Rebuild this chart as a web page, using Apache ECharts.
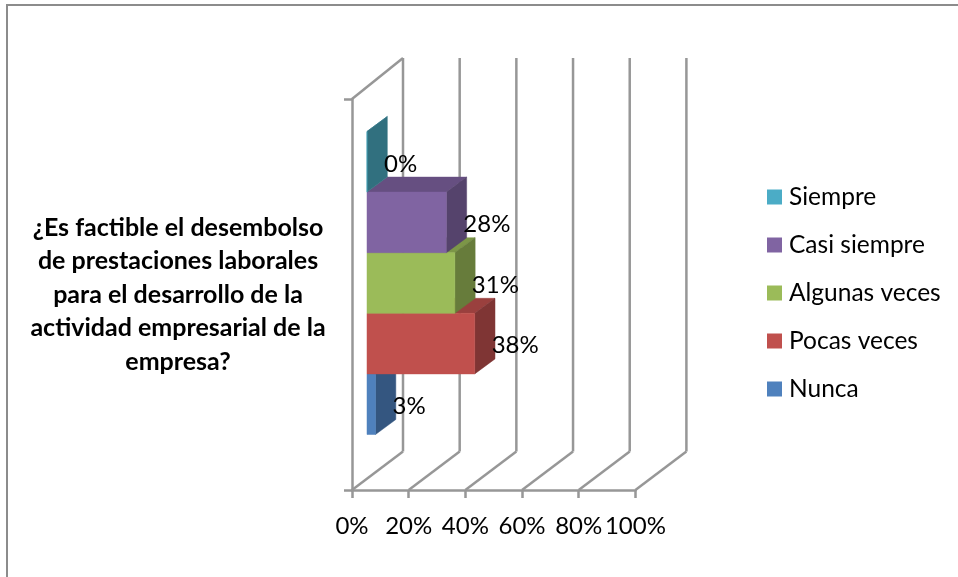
<!DOCTYPE html>
<html><head><meta charset="utf-8">
<style>html,body{margin:0;padding:0;background:#fff}#c{width:958px;height:577px}</style>
<script src="https://cdn.jsdelivr.net/npm/echarts@6/dist/echarts.min.js"></script>
</head><body><div id="c"></div>
<script>
const categories = ["¿Es factible el desembolso\nde prestaciones laborales\npara el desarrollo de la\nactividad empresarial de la\nempresa?"];
const seriesNames = ["Nunca", "Pocas veces", "Algunas veces", "Casi siempre", "Siempre"];
const nunca = [3];
const pocasVeces = [38];
const algunasVeces = [31];
const casiSiempre = [28];
const siempre = [0];
const seriesValues = [nunca, pocasVeces, algunasVeces, casiSiempre, siempre];
const legendOrder = ["Siempre", "Casi siempre", "Algunas veces", "Pocas veces", "Nunca"];
const axisTicks = [0, 20, 40, 60, 80, 100];

const palette = [
  {front:"#4F81BD", top:"#3F6797", side:"#345680"},
  {front:"#C0504D", top:"#9A403E", side:"#7F3534"},
  {front:"#9BBB59", top:"#7C9647", side:"#677C3B"},
  {front:"#8064A2", top:"#664F81", side:"#55436C"},
  {front:"#4BACC6", top:"#3C899E", side:"#31707F"}
];
const FONT = 'Lato, "Open Sans", sans-serif';
const wallColor = "#979797";
const barH = 60.6, barDX = 20.3, barDY = 15, shiftX = 15, shiftY = -11.5;
const wallDX = 51, wallBot = -38.5, wallTop = -41;

function wallItem(params, api) {
  const v = api.value(0);
  const bot = api.coord([v, 0]);
  const x = bot[0];
  const yBot = api.coord([0, 0])[1] + api.size([0, 1])[1] / 2;
  const yTop = yBot - api.size([0, 1])[1];
  const line = (x1, y1, x2, y2) => ({type: "line", shape: {x1, y1, x2, y2},
    style: {stroke: wallColor, lineWidth: 2.5, fill: null}});
  const kids = [
    line(x, yBot, x + wallDX, yBot + wallBot),
    line(x + wallDX, yBot + wallBot, x + wallDX, yTop + wallTop)
  ];
  if (v === 0) kids.push(line(x, yTop, x + wallDX, yTop + wallTop));
  return {type: "group", children: kids};
}

function barItem(idx) {
  return function (params, api) {
    const val = api.value(0);
    const o = api.coord([0, 0]);
    const e = api.coord([val, 0]);
    const x0 = o[0] + shiftX, x1 = e[0] + shiftX;
    const yC = o[1] + shiftY;
    const yB = yC + barH * 2.5 - barH * idx;
    const yT = yB - barH;
    const c = palette[idx];
    const poly = (pts, fill) => ({type: "polygon", shape: {points: pts},
      style: {fill: fill, stroke: fill, lineWidth: 0.5}});
    const kids = [
      poly([[x0, yT], [x0 + barDX, yT - barDY], [x1 + barDX, yT - barDY], [x1, yT]], c.top),
      poly([[x1, yT], [x1 + barDX, yT - barDY], [x1 + barDX, yB - barDY], [x1, yB]], c.side),
      poly([[x0, yT], [x1, yT], [x1, yB], [x0, yB]], c.front),
      {type: "text", z2: 50, style: {x: x1 + 17, y: (yT + yB) / 2 + 2, text: val + "%",
        font: "24px " + FONT, fill: "#000", textAlign: "left", textVerticalAlign: "middle"}}
    ];
    return {type: "group", children: kids};
  };
}

const series = [{
  type: "custom", name: "walls", coordinateSystem: "cartesian2d", z: 1, silent: true, clip: false,
  renderItem: wallItem, data: axisTicks.map(v => [v]), encode: {x: 0}
}];
seriesNames.forEach((n, i) => series.push({
  type: "custom", name: n, coordinateSystem: "cartesian2d", z: 3 + i, clip: false,
  renderItem: barItem(i), data: seriesValues[i].map(v => [v]), encode: {x: 0},
  itemStyle: {color: palette[i].front}
}));

const chart = echarts.init(document.getElementById("c"), null, {renderer: "canvas"});
chart.setOption({
  animation: false,
  backgroundColor: "#fff",
  grid: {left: 352, top: 99, width: 283.4, height: 391, containLabel: false},
  xAxis: {
    type: "value", min: 0, max: 100, interval: 20, splitLine: {show: false},
    axisLine: {show: true, onZero: false, lineStyle: {color: wallColor, width: 2.5}},
    axisTick: {show: true, length: 8, lineStyle: {color: wallColor, width: 2.5}},
    axisLabel: {formatter: "{value}%", fontFamily: FONT, fontSize: 24, color: "#000", margin: 24, hideOverlap: false}
  },
  yAxis: {
    type: "category", data: categories, boundaryGap: true,
    axisLine: {show: true, lineStyle: {color: wallColor, width: 2.5}},
    axisTick: {show: true, length: 8, lineStyle: {color: wallColor, width: 2.5}},
    axisLabel: {fontFamily: FONT, fontSize: 25, fontWeight: "bold", color: "#000", margin: 174, align: "center", lineHeight: 33.5, padding: [26, 0, 0, 0]}
  },
  legend: {
    orient: "vertical", left: 762, top: 179.5, data: legendOrder, icon: "rect",
    itemWidth: 15, itemHeight: 15, itemGap: 23, selectedMode: false,
    textStyle: {fontFamily: FONT, fontSize: 24.5, color: "#000", padding: [0, 0, 0, 2]}
  },
  graphic: [
    {type: "line", silent: true, shape: {x1: 7, y1: 5, x2: 958, y2: 5}, style: {stroke: "#8c8c8c", lineWidth: 2}},
    {type: "line", silent: true, shape: {x1: 7, y1: 4, x2: 7, y2: 577}, style: {stroke: "#8c8c8c", lineWidth: 2}}
  ],
  series: series
});
</script></body></html>
